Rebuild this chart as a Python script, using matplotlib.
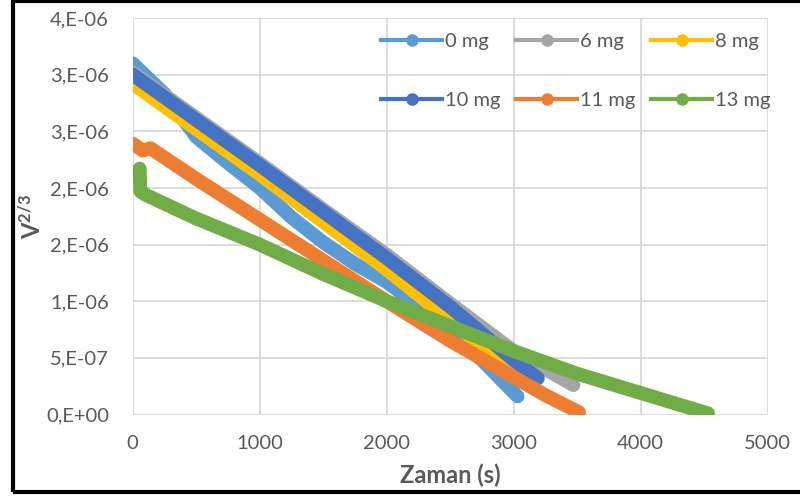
import matplotlib
matplotlib.use("Agg")
import matplotlib.pyplot as plt
from matplotlib.lines import Line2D
from matplotlib.patches import Rectangle

# Time (s) and V^(2/3) for each sample mass
t_0mg = [0, 250, 500, 750, 1000, 1250, 1500, 1750, 2000, 2250, 2500, 2750, 3030]
v_0mg = [3.10e-6, 2.83e-6, 2.45e-6, 2.22e-6, 2.00e-6, 1.74e-6, 1.52e-6, 1.33e-6,
         1.17e-6, 0.96e-6, 0.73e-6, 0.48e-6, 0.16e-6]

t_6mg = [0, 500, 1000, 1500, 2000, 2500, 3000, 3250, 3470]
v_6mg = [3.02e-6, 2.62e-6, 2.22e-6, 1.81e-6, 1.41e-6, 0.98e-6, 0.56e-6, 0.40e-6, 0.26e-6]

t_8mg = [0, 500, 1000, 1500, 2000, 2500, 3000, 3150]
v_8mg = [2.92e-6, 2.52e-6, 2.12e-6, 1.70e-6, 1.28e-6, 0.83e-6, 0.38e-6, 0.25e-6]

t_10mg = [0, 500, 1000, 1500, 2000, 2500, 3000, 3190]
v_10mg = [3.00e-6, 2.60e-6, 2.20e-6, 1.79e-6, 1.38e-6, 0.95e-6, 0.48e-6, 0.32e-6]

t_11mg = [0, 80, 140, 500, 1000, 1500, 2000, 2500, 3000, 3250, 3514]
v_11mg = [2.39e-6, 2.33e-6, 2.35e-6, 2.08e-6, 1.72e-6, 1.36e-6, 1.00e-6, 0.65e-6,
          0.33e-6, 0.17e-6, 0.02e-6]

t_13mg = [0, 55, 60, 100, 500, 1000, 1500, 2000, 2500, 3000, 3500, 4000, 4530]
v_13mg = [2.11e-6, 2.17e-6, 1.97e-6, 1.94e-6, 1.73e-6, 1.50e-6, 1.24e-6, 1.00e-6,
          0.78e-6, 0.56e-6, 0.36e-6, 0.19e-6, 0.01e-6]

labels = ["0 mg", "6 mg", "8 mg", "10 mg", "11 mg", "13 mg"]
colors = ["#5B9BD5", "#A5A5A5", "#FFC000", "#4472C4", "#ED7D31", "#70AD47"]

x_ticks = [0, 1000, 2000, 3000, 4000, 5000]
y_ticks = [0, 0.5e-6, 1.0e-6, 1.5e-6, 2.0e-6, 2.5e-6, 3.0e-6, 3.5e-6]
y_tick_labels = ["0,E+00", "5,E-07", "1,E-06", "2,E-06", "2,E-06", "3,E-06", "3,E-06", "4,E-06"]

plt.rcParams["font.family"] = ["Lato", "DejaVu Sans"]
plt.rcParams["mathtext.default"] = "regular"

text_color = "#595959"
grid_color = "#D9D9D9"

fig = plt.figure(figsize=(8.0, 4.97), dpi=100)
ax = fig.add_axes([132.7 / 800, (497 - 414.5) / 497, (767.7 - 132.7) / 800, (414.5 - 18) / 497])

series = [(t_0mg, v_0mg), (t_6mg, v_6mg), (t_8mg, v_8mg),
          (t_10mg, v_10mg), (t_11mg, v_11mg), (t_13mg, v_13mg)]
for (t, v), c in zip(series, colors):
    ax.plot(t, v, color=c, lw=10, solid_capstyle="round", solid_joinstyle="round", zorder=3)

ax.set_xlim(0, 5000)
ax.set_ylim(0, 3.5e-6)
ax.set_xticks(x_ticks)
ax.set_xticklabels([str(v) for v in x_ticks])
ax.set_yticks(y_ticks)
ax.set_yticklabels(y_tick_labels)
ax.tick_params(axis="both", length=0, labelsize=14.5, labelcolor=text_color)
ax.tick_params(axis="y", pad=17)
ax.tick_params(axis="x", pad=15)
ax.grid(True, color=grid_color, lw=1.3, zorder=0)
ax.set_axisbelow(True)
for s in ax.spines.values():
    s.set_visible(False)

ax.set_xlabel("Zaman (s)", fontsize=17, fontweight="bold", color=text_color, labelpad=8)
ax.set_ylabel("V$^{2/3}$", fontsize=17, fontweight="bold", color=text_color)
ax.yaxis.set_label_coords(-0.138, 0.5)

# legend laid out row by row: 0, 6, 8 on top, 10, 11, 13 below
order = [0, 3, 1, 4, 2, 5]
handles = [Line2D([], [], color=colors[i], lw=3, marker="o", ms=8) for i in order]
leg = ax.legend(handles, [labels[i] for i in order], ncol=3, loc="upper right",
                bbox_to_anchor=(1.02, 0.987), borderpad=0, frameon=False, fontsize=14.5,
                handlelength=3.0, handletextpad=0.15, columnspacing=0.8, labelspacing=2.05)
for txt in leg.get_texts():
    txt.set_color(text_color)

fig.add_artist(Rectangle((13 / 800, 5 / 497), 1.2, 491 / 497, transform=fig.transFigure,
                         fill=False, ec="black", lw=3))

fig.savefig("out.png", dpi=100)
